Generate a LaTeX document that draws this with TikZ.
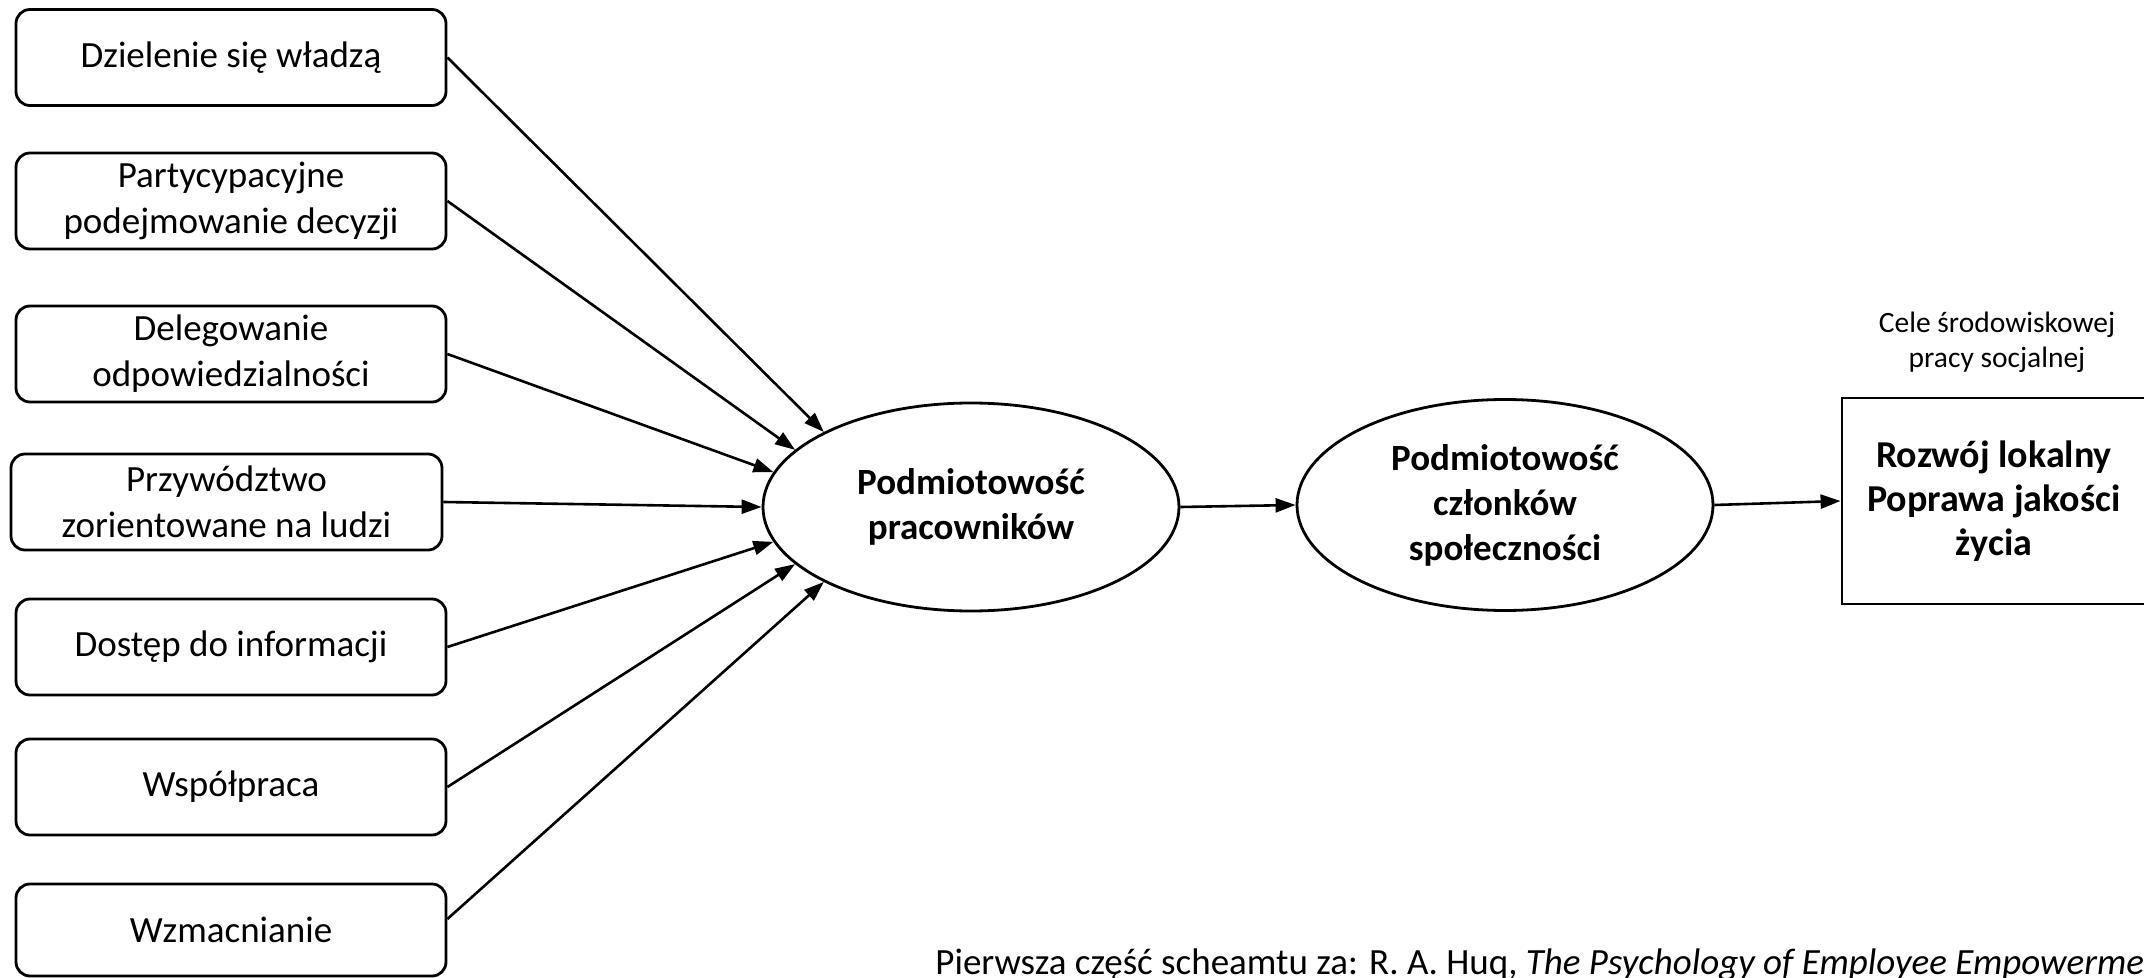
\documentclass[tikz,border=0pt]{standalone}
\usepackage{fontspec}
\setmainfont{Carlito}
\usetikzlibrary{shapes.geometric,arrows.meta}
\begin{document}
\begin{tikzpicture}[x=0.5pt,y=-0.5pt,
  lbox/.style={draw,line width=1.4pt,rounded corners=7pt,minimum width=215pt,minimum height=48pt,inner sep=0pt,align=center,font=\fontsize{18.5}{23}\selectfont},
  oval/.style={draw,ellipse,line width=1.4pt,minimum width=208pt,minimum height=104pt,inner sep=0pt,align=center,font=\bfseries\fontsize{18.5}{22.5}\selectfont},
  goal/.style={draw,line width=1.4pt,minimum width=152pt,minimum height=103pt,inner sep=0pt,align=center,font=\bfseries\fontsize{19}{22}\selectfont},
  arr/.style={line width=1.3pt,-{Triangle[length=10pt,width=7pt]}}]
\useasboundingbox (0,0) rectangle (2144,978);
\node[lbox] (b1) at (231,57.5) {Dzielenie się władzą};
\node[lbox] (b2) at (231,201) {Partycypacyjne\\podejmowanie decyzji};
\node[lbox] (b3) at (231,354) {Delegowanie\\odpowiedzialności};
\node[lbox,minimum width=215.5pt] (b4) at (226.5,502) {Przywództwo\\zorientowane na ludzi};
\node[lbox] (b5) at (231,647) {Dostęp do informacji};
\node[lbox] (b6) at (231,787) {Współpraca};
\node[lbox,minimum height=46pt] (b7) at (231,930) {Wzmacnianie};
\node[oval] (e1) at (971,507) {Podmiotowość\\pracowników};
\node[oval,minimum height=105.5pt] (e2) at (1505,505) {Podmiotowość\\członków\\społeczności};
\node[goal] (r) at (1994,501) {Rozwój lokalny\\Poprawa jakości\\życia};
\node[align=center,inner sep=0pt,font=\fontsize{14.75}{17.5}\selectfont] (lab) at (1997,342) {Cele środowiskowej\\pracy socjalnej};
\node[anchor=base west,inner sep=0pt,font=\fontsize{18.5}{22}\selectfont] (src) at (935,974) {Pierwsza część scheamtu za: R. A. Huq, \textit{The Psychology of Employee Empowerme}};
\draw[arr] (b1.east) -- (e1.153);
\draw[arr] (b2.east) -- (e1.162);
\draw[arr] (b3.east) -- (e1.170);
\draw[arr] (b4.east) -- (e1.180);
\draw[arr] (b5.east) -- (e1.190);
\draw[arr] (b6.east) -- (e1.198);
\draw[arr] ([yshift=5.5pt]b7.east) -- (e1.207);
\draw[arr] (e1.east) -- (e2.west);
\draw[arr] (e2.east) -- (r.west);
\end{tikzpicture}
\end{document}
